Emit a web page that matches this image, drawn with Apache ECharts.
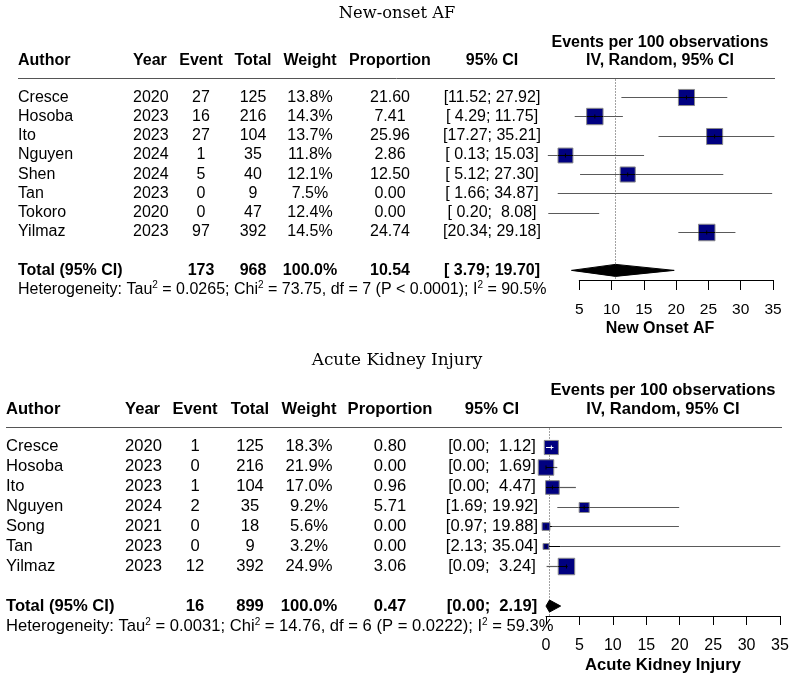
<!DOCTYPE html>
<html>
<head>
<meta charset="utf-8">
<title>Forest plots</title>
<script src="https://cdn.jsdelivr.net/npm/echarts@6/dist/echarts.min.js"></script>
<style>html,body{margin:0;background:#fff}#graph{width:794px;height:679px}</style>
</head>
<body>
<div id="graph"></div>
<script>
// New-onset AF
var afAuthor = ['Cresce', 'Hosoba', 'Ito', 'Nguyen', 'Shen', 'Tan', 'Tokoro', 'Yilmaz'];
var afYear   = [2020, 2023, 2023, 2024, 2024, 2023, 2020, 2023];
var afEvent  = [27, 16, 27, 1, 5, 0, 0, 97];
var afTotal  = [125, 216, 104, 35, 40, 9, 47, 392];
var afWeight = [13.8, 14.3, 13.7, 11.8, 12.1, 7.5, 12.4, 14.5];
var afProp   = [21.60, 7.41, 25.96, 2.86, 12.50, 0.00, 0.00, 24.74];
var afLower  = [11.52, 4.29, 17.27, 0.13, 5.12, 1.66, 0.20, 20.34];
var afUpper  = [27.92, 11.75, 35.21, 15.03, 27.30, 34.87, 8.08, 29.18];
var afBox    = [1, 1, 1, 1, 1, 0, 0, 1];   // squares drawn in the plot
var afSum    = [173, 968];                 // events, total
var afPooled = [10.54, 3.79, 19.70];       // estimate, lower, upper
var afHet    = ['0.0265', '73.75', '7', 'P < 0.0001', '90.5%'];

// Acute kidney injury
var akiAuthor = ['Cresce', 'Hosoba', 'Ito', 'Nguyen', 'Song', 'Tan', 'Yilmaz'];
var akiYear   = [2020, 2023, 2023, 2024, 2021, 2023, 2023];
var akiEvent  = [1, 0, 1, 2, 0, 0, 12];
var akiTotal  = [125, 216, 104, 35, 18, 9, 392];
var akiWeight = [18.3, 21.9, 17.0, 9.2, 5.6, 3.2, 24.9];
var akiProp   = [0.80, 0.00, 0.96, 5.71, 0.00, 0.00, 3.06];
var akiLower  = [0.00, 0.00, 0.00, 1.69, 0.97, 2.13, 0.09];
var akiUpper  = [1.12, 1.69, 4.47, 19.92, 19.88, 35.04, 3.24];
var akiBox    = [1, 1, 1, 1, 1, 1, 1];
var akiSum    = [16, 899];
var akiPooled = [0.47, 0.00, 2.19];
var akiHet    = ['0.0031', '14.76', '6', 'P = 0.0222', '59.3%'];

var xTicks = [0, 35, 5];   // min, max, interval of the forest axis

var SANS = '"Liberation Sans", Arial, sans-serif';
var SERIF = '"DejaVu Serif", "Liberation Serif", serif';

var panels = [
  {
    title: 'New-onset AF', axisName: 'New Onset AF',
    author: afAuthor, year: afYear, event: afEvent, total: afTotal, weight: afWeight,
    prop: afProp, lo: afLower, hi: afUpper, box: afBox, sum: afSum, pooled: afPooled, het: afHet,
    left: 547, right: 773, top: 78, bottom: 280, axisFrom: 5, fs: 16, tickFs: 15.5,
    rule: [18, 775], cols: { author: 18, year: 133, event: 201, total: 253, weight: 310, prop: 390, ci: 492 }
  },
  {
    title: 'Acute Kidney Injury', axisName: 'Acute Kidney Injury',
    author: akiAuthor, year: akiYear, event: akiEvent, total: akiTotal, weight: akiWeight,
    prop: akiProp, lo: akiLower, hi: akiUpper, box: akiBox, sum: akiSum, pooled: akiPooled, het: akiHet,
    left: 546, right: 780, top: 427, bottom: 616, axisFrom: 0, fs: 16.6, tickFs: 16,
    rule: [6, 782], cols: { author: 6, year: 125, event: 195, total: 250, weight: 309, prop: 390, ci: 492 }
  }
];

function pad(s, w) { while (s.length < w) s = ' ' + s; return s; }

function ciStrings(p) {
  var los = p.lo.concat([p.pooled[1]]).map(function (v) { return v.toFixed(2); });
  var his = p.hi.concat([p.pooled[2]]).map(function (v) { return v.toFixed(2); });
  var wl = Math.max.apply(null, los.map(function (s) { return s.length; }));
  var wh = Math.max.apply(null, his.map(function (s) { return s.length; }));
  return los.map(function (s, i) { return '[' + pad(s, wl) + '; ' + pad(his[i], wh) + ']'; });
}

function txt(s, x, y, align, bold, size, family) {
  return {
    type: 'text', x: x, y: y,
    style: {
      text: s, fill: '#000', align: align, verticalAlign: 'middle',
      fontSize: size, fontFamily: family || SANS, fontWeight: bold ? 'bold' : 'normal'
    }
  };
}

function tableItem(p, ci) {
  return function (params, api) {
    var i = params.dataIndex, c = p.cols, f = p.fs;
    var y = api.coord([0, i])[1];
    return {
      type: 'group',
      children: [
        txt(p.author[i], c.author, y, 'left', false, f),
        txt(String(p.year[i]), c.year, y, 'left', false, f),
        txt(String(p.event[i]), c.event, y, 'center', false, f),
        txt(String(p.total[i]), c.total, y, 'center', false, f),
        txt(p.weight[i].toFixed(1) + '%', c.weight, y, 'center', false, f),
        txt(p.prop[i].toFixed(2), c.prop, y, 'center', false, f),
        txt(ci[i], c.ci, y, 'center', false, f)
      ]
    };
  };
}

function forestItem(p) {
  var maxW = Math.max.apply(null, p.weight);
  return function (params, api) {
    var i = params.dataIndex;
    var y = Math.round(api.coord([0, i])[1]) + 0.5;
    var xl = api.coord([p.lo[i], i])[0], xh = api.coord([p.hi[i], i])[0];
    var kids = [{ type: 'line', shape: { x1: xl, y1: y, x2: xh, y2: y }, style: { stroke: '#5a5a5a', lineWidth: 1.2 } }];
    if (p.box[i]) {
      var xe = api.coord([p.prop[i], i])[0];
      var s = 16.5 * Math.sqrt(p.weight[i] / maxW);
      kids.push({ type: 'rect', shape: { x: xe - s / 2, y: y - s / 2, width: s, height: s },
        style: { fill: '#000080', stroke: '#8a8a8a', lineWidth: 1 } });
      var inside = xl >= xe - s / 2 && xh <= xe + s / 2;
      var col = inside ? '#fff' : '#000';
      kids.push({ type: 'line', shape: { x1: Math.max(xl, xe - s / 2), y1: y, x2: Math.min(xh, xe + s / 2), y2: y },
        style: { stroke: col, lineWidth: 1 } });
      kids.push({ type: 'line', shape: { x1: xe, y1: y - 2, x2: xe, y2: y + 2 }, style: { stroke: col, lineWidth: 1 } });
    }
    return { type: 'group', children: kids };
  };
}

function decorItem(p, ci) {
  return function (params, api) {
    var n = p.author.length, c = p.cols, f = p.fs;
    var yOf = function (r) { return api.coord([0, r])[1]; };
    var mid = api.coord([(xTicks[0] + xTicks[1]) / 2, 0])[0];
    var kids = [];
    kids.push(txt(p.title, 397, yOf(-4.35), 'center', false, f + 0.3, SERIF));
    var hy = yOf(-1.9);
    kids.push(txt('Author', c.author, hy, 'left', true, f));
    kids.push(txt('Year', c.year, hy, 'left', true, f));
    kids.push(txt('Event', c.event, hy, 'center', true, f));
    kids.push(txt('Total', c.total, hy, 'center', true, f));
    kids.push(txt('Weight', c.weight, hy, 'center', true, f));
    kids.push(txt('Proportion', c.prop, hy, 'center', true, f));
    kids.push(txt('95% CI', c.ci, hy, 'center', true, f));
    kids.push(txt('Events per 100 observations', mid, yOf(-2.85), 'center', true, f));
    kids.push(txt('IV, Random, 95% CI', mid, hy, 'center', true, f));
    var ry = Math.round(yOf(-1)) + 0.5;
    kids.push({ type: 'line', shape: { x1: p.rule[0], y1: ry, x2: p.rule[1], y2: ry }, style: { stroke: '#555', lineWidth: 1 } });

    // pooled estimate: dotted reference line and diamond
    var xe = Math.round(api.coord([p.pooled[0], 0])[0]) + 0.5;
    kids.push({ type: 'line', shape: { x1: xe, y1: ry + 1, x2: xe, y2: yOf(n + 1.5) },
      style: { stroke: '#444', lineWidth: 1, lineDash: [1, 2] } });
    var ty = yOf(n + 1);
    var xl = api.coord([p.pooled[1], 0])[0], xh = api.coord([p.pooled[2], 0])[0];
    kids.push({ type: 'polygon', shape: { points: [[xl, ty], [xe, ty - 6], [xh, ty], [xe, ty + 6]] },
      style: { fill: '#000', stroke: '#000', lineWidth: 1 } });

    // total row
    kids.push(txt('Total (95% CI)', c.author, ty, 'left', true, f));
    kids.push(txt(String(p.sum[0]), c.event, ty, 'center', true, f));
    kids.push(txt(String(p.sum[1]), c.total, ty, 'center', true, f));
    kids.push(txt('100.0%', c.weight, ty, 'center', true, f));
    kids.push(txt(p.pooled[0].toFixed(2), c.prop, ty, 'center', true, f));
    kids.push(txt(ci[n], c.ci, ty, 'center', true, f));

    // heterogeneity
    var h = p.het;
    kids.push({
      type: 'text', x: c.author, y: yOf(n + 2),
      style: {
        text: 'Heterogeneity: Tau{s|2} = ' + h[0] + '; Chi{s|2} = ' + h[1] + ', df = ' + h[2] +
          ' (' + h[3] + '); I{s|2} = ' + h[4],
        fill: '#000', align: 'left', verticalAlign: 'middle',
        fontSize: f, fontFamily: SANS, lineHeight: 18,
        rich: { s: { fontSize: 10, fontFamily: SANS, fill: '#000', verticalAlign: 'top', lineHeight: 10 } }
      }
    });
    return { type: 'group', children: kids };
  };
}

var grid = [], xAxis = [], yAxis = [], series = [];
panels.forEach(function (p) {
  var n = p.author.length;
  var ci = ciStrings(p);
  var g = grid.length;
  var yRange = { type: 'value', min: -1, max: n + 1.5, inverse: true, show: false };
  grid.push({ left: p.left, top: p.top, width: p.right - p.left, height: p.bottom - p.top, outerBoundsMode: 'none' });
  var showAxis = p.axisFrom === xTicks[0];
  xAxis.push({
    gridIndex: g, type: 'value', min: xTicks[0], max: xTicks[1], interval: xTicks[2],
    position: 'bottom', splitLine: { show: false },
    axisLine: { show: showAxis, onZero: false, lineStyle: { color: '#000', width: 1 } },
    axisTick: { show: showAxis, length: 9, lineStyle: { color: '#000' } },
    axisLabel: { show: showAxis, margin: 22, color: '#000', fontSize: p.tickFs, fontFamily: SANS },
    name: p.axisName, nameLocation: 'middle', nameGap: 41,
    nameTextStyle: { color: '#000', fontSize: p.fs, fontWeight: 'bold', fontFamily: SANS }
  });
  yAxis.push(Object.assign({ gridIndex: g }, yRange));
  if (!showAxis) {
    // separate axis that starts at axisFrom
    var ga = grid.length;
    var x0 = p.left + (p.right - p.left) * (p.axisFrom - xTicks[0]) / (xTicks[1] - xTicks[0]);
    grid.push({ left: x0, top: p.top, width: p.right - x0, height: p.bottom - p.top, outerBoundsMode: 'none' });
    xAxis.push({
      gridIndex: ga, type: 'value', min: p.axisFrom, max: xTicks[1], interval: xTicks[2],
      position: 'bottom', splitLine: { show: false },
      axisLine: { onZero: false, lineStyle: { color: '#000', width: 1 } },
      axisTick: { length: 10, lineStyle: { color: '#000' } },
      axisLabel: { margin: 22, color: '#000', fontSize: p.tickFs, fontFamily: SANS }
    });
    yAxis.push(Object.assign({ gridIndex: ga }, yRange));
  }
  var xi = xAxis.length - (showAxis ? 1 : 2);
  var common = { type: 'custom', coordinateSystem: 'cartesian2d', xAxisIndex: xi, yAxisIndex: xi, clip: false, silent: true };
  series.push(Object.assign({}, common, { data: [[0, 0]], renderItem: decorItem(p, ci) }));
  series.push(Object.assign({}, common, { data: p.author.map(function (a, i) { return [0, i]; }), renderItem: tableItem(p, ci) }));
  series.push(Object.assign({}, common, { data: p.prop.map(function (v, i) { return [v, i]; }), renderItem: forestItem(p) }));
});

var myChart = echarts.init(document.getElementById('graph'));
myChart.setOption({
  animation: false,
  backgroundColor: '#fff',
  grid: grid, xAxis: xAxis, yAxis: yAxis, series: series
});
</script>
</body>
</html>
